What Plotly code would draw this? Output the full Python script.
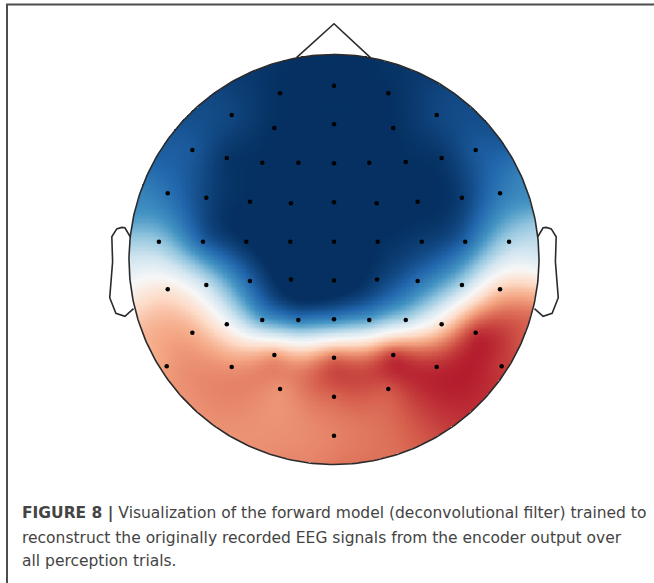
import numpy as np
import plotly.graph_objects as go

# ---- data: 64-channel EEG montage (head-radius units) and forward-model weights ----
channels = ["Fp1", "Fpz", "Fp2",
            "AF7", "AF3", "AFz", "AF4", "AF8",
            "F7", "F5", "F3", "F1", "Fz", "F2", "F4", "F6", "F8",
            "FT7", "FC5", "FC3", "FC1", "FCz", "FC2", "FC4", "FC6", "FT8",
            "T7", "C5", "C3", "C1", "Cz", "C2", "C4", "C6", "T8",
            "TP7", "CP5", "CP3", "CP1", "CPz", "CP2", "CP4", "CP6", "TP8",
            "P7", "P5", "P3", "P1", "Pz", "P2", "P4", "P6", "P8",
            "P9", "PO7", "PO3", "POz", "PO4", "PO8", "P10",
            "O1", "Oz", "O2",
            "Iz"]
pos_x = [-0.263, 0.0, 0.265,
         -0.499, -0.291, 0.0, 0.289, 0.501,
         -0.691, -0.523, -0.350, -0.174, 0.0, 0.172, 0.350, 0.525, 0.691,
         -0.811, -0.623, -0.410, -0.210, 0.0, 0.208, 0.408, 0.624, 0.810,
         -0.854, -0.639, -0.428, -0.213, 0.0, 0.213, 0.428, 0.640, 0.854,
         -0.811, -0.623, -0.410, -0.210, 0.0, 0.210, 0.408, 0.624, 0.810,
         -0.691, -0.523, -0.350, -0.174, 0.0, 0.172, 0.350, 0.525, 0.691,
         -0.816, -0.499, -0.291, 0.0, 0.289, 0.501, 0.818,
         -0.263, 0.0, 0.265,
         0.0]
pos_y = [0.811, 0.848, 0.811,
         0.705, 0.641, 0.660, 0.641, 0.705,
         0.534, 0.495, 0.472, 0.472, 0.469, 0.472, 0.476, 0.495, 0.534,
         0.323, 0.301, 0.282, 0.274, 0.279, 0.274, 0.282, 0.301, 0.323,
         0.087, 0.087, 0.087, 0.087, 0.087, 0.087, 0.087, 0.087, 0.087,
         -0.145, -0.124, -0.105, -0.097, -0.103, -0.097, -0.105, -0.124, -0.145,
         -0.357, -0.316, -0.295, -0.295, -0.292, -0.295, -0.295, -0.316, -0.357,
         -0.521, -0.524, -0.466, -0.479, -0.466, -0.524, -0.521,
         -0.632, -0.669, -0.632,
         -0.860]
weights = [-1.00, -1.00, -1.00,
           -0.92, -1.00, -1.00, -1.00, -0.92,
           -0.85, -0.98, -1.00, -1.05, -1.05, -1.05, -1.00, -0.98, -0.85,
           -0.75, -0.92, -1.00, -1.05, -1.05, -1.05, -1.00, -0.95, -0.72,
           -0.38, -0.82, -1.00, -1.05, -1.05, -1.00, -0.95, -0.80, -0.32,
           0.12, -0.22, -0.80, -1.05, -1.05, -0.95, -0.75, -0.32, 0.25,
           0.36, 0.00, -0.55, -0.72, -0.68, -0.55, -0.30, 0.15, 0.72,
           0.42, 0.45, 0.42, 0.56, 0.70, 0.74, 0.70,
           0.45, 0.58, 0.62,
           0.50]

caption_lines = [
    "<b>FIGURE 8 |</b> Visualization of the forward model (deconvolutional filter) trained to",
    "reconstruct the originally recorded EEG signals from the encoder output over",
    "all perception trials.",
]

# matplotlib RdBu_r
rdbu_r = ["#053061", "#2166ac", "#4393c3", "#92c5de", "#d1e5f0", "#f7f7f7",
          "#fddbc7", "#f4a582", "#d6604d", "#b2182b", "#67001f"]
colorscale = [[i / 10, c] for i, c in enumerate(rdbu_r)]

# ---- interpolation: head-border extrapolation points + thin-plate spline ----
ex = np.array(pos_x)
ey = np.array(pos_y)
ev = np.array(weights)
ang = np.deg2rad(np.arange(0, 360, 8))
bx, by = 1.08 * np.cos(ang), 1.08 * np.sin(ang)
dist_b = np.hypot(bx[:, None] - ex[None, :], by[:, None] - ey[None, :])
nearest = np.argsort(dist_b, axis=1)[:, :3]
bv = ev[nearest].mean(axis=1)

px = np.concatenate([ex, bx])
py = np.concatenate([ey, by])
pv = np.concatenate([ev, bv])
n = len(px)


def tps(r):
    with np.errstate(divide="ignore", invalid="ignore"):
        out = r * r * np.log(r)
    return np.nan_to_num(out)


d = np.hypot(px[:, None] - px[None, :], py[:, None] - py[None, :])
K = tps(d) + 2e-3 * np.eye(n)
P = np.column_stack([np.ones(n), px, py])
A = np.zeros((n + 3, n + 3))
A[:n, :n] = K
A[:n, n:] = P
A[n:, :n] = P.T
b = np.concatenate([pv, np.zeros(3)])
sol = np.linalg.solve(A, b)
w, a = sol[:n], sol[n:]

g = np.linspace(-1.0, 1.0, 321)
GX, GY = np.meshgrid(g, g)
dg = np.hypot(GX[..., None] - px, GY[..., None] - py)
Z = tps(dg) @ w + a[0] + a[1] * GX + a[2] * GY
Z[np.hypot(GX, GY) > 1.0] = np.nan

fig = go.Figure()
fig.add_trace(go.Heatmap(x=g, y=g, z=Z, colorscale=colorscale, zmin=-1, zmax=1,
                         showscale=False, hoverinfo="skip"))

# head outline, nose, ears (MNE-style)
t = np.linspace(0, 2 * np.pi, 361)
line_style = dict(color="#2b2b2b", width=1.6)
fig.add_trace(go.Scatter(x=np.cos(t), y=np.sin(t), mode="lines", line=line_style,
                         hoverinfo="skip", showlegend=False))
fig.add_trace(go.Scatter(x=[-0.183, 0.0, 0.183], y=[0.985, 1.15, 0.98], mode="lines",
                         line=line_style, hoverinfo="skip", showlegend=False))
ear_x = np.array([.497, .510, .518, .5299, .5419, .54, .547, .532, .510, .489]) * 2
ear_y = np.array([.0555, .0775, .0783, .0746, .0555, -.0055, -.0932, -.1313, -.1384, -.1199]) * 2
for sgn in (-1, 1):
    fig.add_trace(go.Scatter(x=sgn * ear_x, y=ear_y, mode="lines", line=line_style,
                             hoverinfo="skip", showlegend=False))

# electrodes
fig.add_trace(go.Scatter(x=pos_x, y=pos_y, mode="markers", text=channels,
                         marker=dict(color="black", size=4.5, line=dict(width=0)),
                         hoverinfo="text", showlegend=False))

W, H = 654, 583
cx, cy, R = 334.0, 259.5, 205.0
fig.update_xaxes(range=[(0 - cx) / R, (W - cx) / R], visible=False, fixedrange=True)
fig.update_yaxes(range=[(cy - H) / R, cy / R], visible=False, fixedrange=True)

# figure frame
fig.add_shape(type="rect", xref="paper", yref="paper",
              x0=7 / W, x1=1.05, y0=-0.05, y1=1 - 4.5 / H,
              line=dict(color="#4d4d4d", width=2), layer="above")

baselines = [517.5, 541.5, 565.0]
for txt, yb in zip(caption_lines, baselines):
    fig.add_annotation(text=txt, xref="paper", yref="paper", x=21.0 / W, y=1 - yb / H,
                       xanchor="left", yanchor="bottom", showarrow=False,
                       font=dict(family="DejaVu Sans, sans-serif", size=15.5, color="#444444"),
                       borderpad=0, yshift=-6)

fig.update_layout(width=W, height=H, margin=dict(l=0, r=0, t=0, b=0),
                  paper_bgcolor="white", plot_bgcolor="white", autosize=False)

fig.write_html("out.html", config={"displayModeBar": False},
               post_script="document.body.style.margin='0px';")
